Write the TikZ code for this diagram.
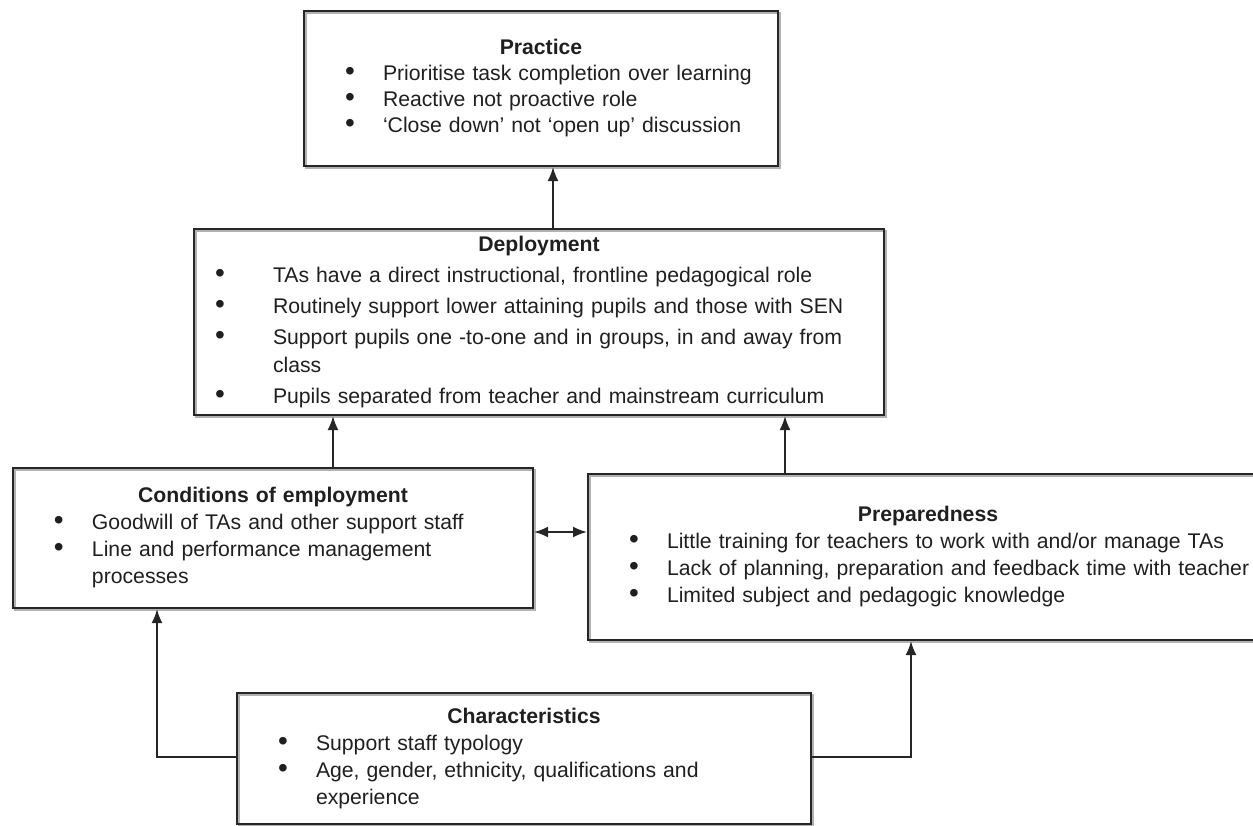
\documentclass[tikz,border=0pt]{standalone}
\usepackage{fontspec}
\setmainfont{Liberation Sans}
\usepackage{tikz}
\usetikzlibrary{arrows.meta,positioning}

\newcommand{\ttl}[1]{\noindent\hbox to \hsize{\hfil\bfseries #1\hfil}}
\newcommand{\bitem}[2][20.5pt]{\par\hangindent=39.5pt\hangafter=1
  \noindent\hbox to 39.5pt{\hskip#1{\fontsize{14}{14}\selectfont\textbullet}\hfil}#2\par}
\newcommand{\nl}{\hfil\break}

\begin{document}
\begin{tikzpicture}[x=0.5pt,y=-0.5pt,
      box/.style={draw=black!85,line width=1pt,anchor=north west,align=left,
                  inner sep=0pt,text=black!88,
                  preaction={draw=black!30,line width=1pt,
                             transform canvas={xshift=0.9pt,yshift=-0.9pt}},
                  font=\fontsize{10.6}{13.5}\selectfont},
      arr/.style={-{Latex[length=7pt,width=5.5pt]},line width=1pt,draw=black!85},
      dbl/.style={arr,{Latex[length=7pt,width=5.5pt]}-{Latex[length=7pt,width=5.5pt]}}]
    \useasboundingbox (0,0) rectangle (1253,825);

    \node[box,text width=237pt,minimum height=77.5pt,
          font=\fontsize{10.6}{13}\selectfont] (practice) at (303,10)
      {\ttl{Practice}
       \bitem{Prioritise task completion over learning}
       \bitem{Reactive not proactive role}
       \bitem{‘Close down’ not ‘open up’ discussion}};

    \node[box,text width=345pt,minimum height=93pt,
          font=\fontsize{10.6}{14}\selectfont\setlength{\parskip}{1.5pt}] (deploy) at (193,228)
      {\ttl{Deployment}
       \bitem[10.5pt]{TAs have a direct instructional, frontline pedagogical role}
       \bitem[10.5pt]{Routinely support lower attaining pupils and those with SEN}
       \bitem[10.5pt]{Support pupils one -to-one and in groups, in and away from\nl class}
       \bitem[10.5pt]{Pupils separated from teacher and mainstream curriculum}};

    \node[box,text width=260pt,minimum height=70pt] (cond) at (12,467)
      {\ttl{Conditions of employment}
       \bitem{Goodwill of TAs and other support staff}
       \bitem{Line and performance management\nl processes}};

    \node[box,text width=340pt,minimum height=83pt] (prep) at (587,473)
      {\ttl{Preparedness}
       \bitem{Little training for teachers to work with and/or manage TAs}
       \bitem{Lack of planning, preparation and feedback time with teacher}
       \bitem{Limited subject and pedagogic knowledge}};

    \node[box,text width=287pt,minimum height=65.5pt] (char) at (236,692)
      {\ttl{Characteristics}
       \bitem{Support staff typology}
       \bitem{Age, gender, ethnicity, qualifications and\nl experience}};

    % where the connectors run
    \coordinate (pracx) at (553,0);
    \coordinate (condx) at (333,0);
    \coordinate (prepx) at (785,0);
    \coordinate (linky) at (0,532);
    \coordinate (chary) at (0,757);
    \coordinate (charl) at (157,0);
    \coordinate (charr) at (911,0);

    \draw[arr] (deploy.north -| pracx) -- (practice.south -| pracx);
    \draw[arr] (cond.north -| condx) -- (deploy.south -| condx);
    \draw[arr] (prep.north -| prepx) -- (deploy.south -| prepx);
    \draw[dbl] (cond.east |- linky) -- (prep.west |- linky);
    \draw[arr] (char.west |- chary) -| (cond.south -| charl);
    \draw[arr] (char.east |- chary) -| (prep.south -| charr);
  \end{tikzpicture}
\end{document}
